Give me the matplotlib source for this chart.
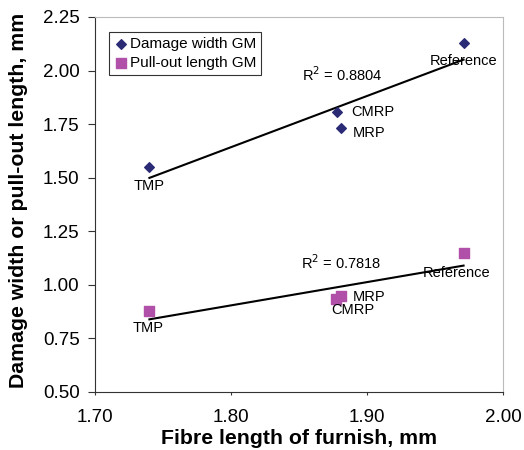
import matplotlib
matplotlib.use("Agg")
import matplotlib.pyplot as plt
import numpy as np

plt.rcParams['font.family'] = ['Liberation Sans', 'DejaVu Sans']

pulps = ["TMP", "CMRP", "MRP", "Reference"]
fibre_length = [1.74, 1.878, 1.881, 1.971]
damage_width = [1.55, 1.805, 1.73, 2.13]
fibre_length_po = [1.74, 1.877, 1.881, 1.971]
pullout_length = [0.877, 0.935, 0.95, 1.147]
r2_damage = "0.8804"
r2_pullout = "0.7818"

fig = plt.figure(figsize=(5.24, 4.5), dpi=100)
ax = fig.add_axes([95/524, 1-392/450, (503-95)/524, (392-17)/450])

ax.scatter(fibre_length, damage_width, marker='D', s=24, color='#2b2a75', label='Damage width GM', zorder=3)
ax.scatter(fibre_length_po, pullout_length, marker='s', s=48, color='#b050a8', label='Pull-out length GM', zorder=3)

for xs, ys in [(fibre_length, damage_width), (fibre_length_po, pullout_length)]:
    p = np.polyfit(xs, ys, 1)
    xx = np.array([min(xs), max(xs)])
    ax.plot(xx, np.polyval(p, xx), color='black', lw=1.5, zorder=2)

lab_kw = dict(fontsize=10.5, textcoords='offset points')
offs_d = {"TMP": (0, -14, 'center'), "CMRP": (10, 0, 'left'), "MRP": (8, -3, 'left'), "Reference": (0, -13, 'center')}
for name, x, y in zip(pulps, fibre_length, damage_width):
    dx, dy, ha = offs_d[name]
    ax.annotate(name, (x, y), xytext=(dx, dy), ha=ha, va='center', **lab_kw)
offs_p = {"TMP": (-1, -12, 'center'), "CMRP": (12, -8, 'center'), "MRP": (8, -1, 'left'), "Reference": (-5, -14, 'center')}
for name, x, y in zip(pulps, fibre_length_po, pullout_length):
    dx, dy, ha = offs_p[name]
    ax.annotate(name, (x, y), xytext=(dx, dy), ha=ha, va='center', **lab_kw)

ax.text(1.882, 1.98, "R$^2$ = " + r2_damage, fontsize=10.5, ha='center', va='center')
ax.text(1.881, 1.104, "R$^2$ = " + r2_pullout, fontsize=10.5, ha='center', va='center')

ax.set_xlim(1.70, 2.00)
ax.set_ylim(0.50, 2.25)
ax.set_xticks([1.70, 1.80, 1.90, 2.00])
ax.set_yticks([0.50, 0.75, 1.00, 1.25, 1.50, 1.75, 2.00, 2.25])
ax.xaxis.set_major_formatter(matplotlib.ticker.FormatStrFormatter('%.2f'))
ax.yaxis.set_major_formatter(matplotlib.ticker.FormatStrFormatter('%.2f'))
ax.tick_params(labelsize=13.5, direction='out', color='#333333')
ax.tick_params(axis='x', length=2.5, pad=10)
ax.tick_params(axis='y', length=5, pad=6)
ax.spines['top'].set_color('#bbbbbb')
ax.spines['right'].set_color('#bbbbbb')
ax.spines['left'].set_color('#333333')
ax.spines['bottom'].set_color('#333333')

ax.set_xlabel("Fibre length of furnish, mm", fontsize=15.3, fontweight='bold')
ax.set_ylabel("Damage width or pull-out length, mm", fontsize=15.3, fontweight='bold')
ax.xaxis.set_label_coords(0.5, -0.1)
ax.yaxis.set_label_coords(-0.164, 0.51)

leg = ax.legend(loc='upper left', bbox_to_anchor=(0.034, 0.96), fontsize=11, frameon=True, fancybox=False,
                edgecolor='black', handletextpad=0.1, handlelength=1.0, borderpad=0.3, labelspacing=0.35,
                borderaxespad=0)
leg.get_frame().set_linewidth(0.8)

fig.savefig("out.png", dpi=100)
